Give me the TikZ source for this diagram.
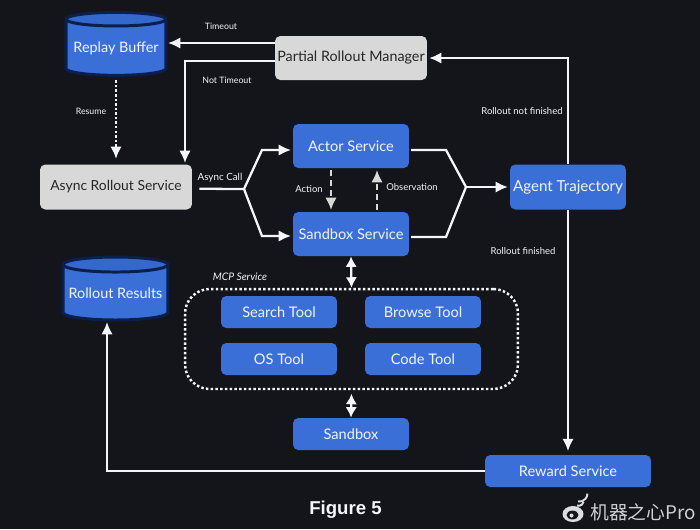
\documentclass[tikz,border=0pt]{standalone}
\usepackage{fontspec}
\setmainfont{Lato}
\newfontfamily\captionfont{Liberation Sans}
\newfontfamily\cjkfont{Noto Sans CJK SC}
\usetikzlibrary{arrows.meta,shapes.geometric}

\definecolor{pagebg}{HTML}{14151A}
\definecolor{boxblue}{HTML}{3A6FD8}
\definecolor{boxgrey}{HTML}{D8D8D8}
\definecolor{lidblue}{HTML}{3468CC}
\definecolor{rimblue}{HTML}{0A1F4E}
\definecolor{softwhite}{HTML}{F2F5FA}

\tikzset{
    bluebox/.style={fill=boxblue, rounded corners=3pt, inner sep=0pt, text=softwhite, font=\fontsize{8.3}{10}\selectfont},
    greybox/.style={fill=boxgrey, rounded corners=3pt, inner sep=0pt, text=black!85, font=\fontsize{8.15}{10}\selectfont},
    store/.style={cylinder, shape border rotate=90, shape aspect=0.16, draw=rimblue, line width=1.7pt, inner sep=0pt,
        cylinder uses custom fill, cylinder body fill=boxblue, cylinder end fill=lidblue,
        text=softwhite, font=\fontsize{8.2}{10}\selectfont},
    tag/.style={text=softwhite, inner sep=0pt, font=\fontsize{5.4}{6}\selectfont},
    flow/.style={draw=softwhite, line width=1.3pt, -{Latex[length=7pt,width=6.5pt]}},
    plainflow/.style={draw=softwhite, line width=1.3pt},
    dotflow/.style={flow, dash pattern=on 1.4pt off 1.2pt},
    dashflow/.style={draw=boxgrey, line width=1.3pt, dash pattern=on 3.2pt off 2.6pt, -{Latex[length=7pt,width=6.5pt]}},
    bothflow/.style={draw=softwhite, line width=1.3pt, {Latex[length=6pt,width=6.5pt]}-{Latex[length=6pt,width=6.5pt]}}
}

\begin{document}
\begin{tikzpicture}[x=0.02cm, y=-0.02cm]
    % background
    \fill[pagebg] (0,0) rectangle (700,529);
    \useasboundingbox (0,0) rectangle (700,529);

    % stores
    \node[store, minimum width=2cm, minimum height=1.26cm] (replay) at (116,48) {\raisebox{-3pt}{Replay Buffer}};
    \node[store, minimum width=2.1cm, minimum height=1.26cm] (results) at (115.5,293) {\raisebox{-3pt}{Rollout Results}};

    % grey services
    \node[greybox, minimum width=3.04cm, minimum height=0.88cm] (manager) at (351,58) {Partial Rollout Manager};
    \node[greybox, minimum width=3.04cm, minimum height=0.9cm, font=\fontsize{7.9}{10}\selectfont] (async) at (116,187) {Async Rollout Service};

    % blue services
    \node[bluebox, minimum width=2.32cm, minimum height=0.88cm] (actor) at (351,146) {Actor Service};
    \node[bluebox, minimum width=2.32cm, minimum height=0.88cm] (sandboxsvc) at (351,234) {Sandbox Service};
    \node[bluebox, minimum width=2.32cm, minimum height=0.9cm, font=\fontsize{8.6}{10}\selectfont] (agent) at (568,187) {Agent Trajectory};
    \node[bluebox, minimum width=2.32cm, minimum height=0.64cm] (sandbox) at (351,434) {Sandbox};
    \node[bluebox, minimum width=3.32cm, minimum height=0.64cm] (reward) at (568,471) {Reward Service};

    % MCP tools
    \node[draw=softwhite, line width=1.4pt, dash pattern=on 1.4pt off 1.3pt, rounded corners=14pt,
        minimum width=6.66cm, minimum height=2cm] (mcp) at (351.5,339) {};
    \foreach \toolname/\toolx/\tooly/\tooltext in {search/279/312/Search Tool, browse/423/312/Browse Tool, os/279/359/OS Tool, code/423/359/Code Tool} {
        \node[bluebox, minimum width=2.32cm, minimum height=0.64cm] (\toolname) at (\toolx,\tooly) {\tooltext};
    }

    % junction points
    \coordinate (split) at (244,189);
    \coordinate (merge) at (466,187);
    \coordinate (bendtimeout) at (185,61);
    \coordinate (asyncin) at (185,163);
    \coordinate (bufferin) at (168,43);
    \coordinate (resultsin) at (107,322);

    % Partial Rollout Manager outputs
    \draw[flow] (manager.west |- bufferin) -- (bufferin);
    \draw[flow] (manager.west |- bendtimeout) -- (bendtimeout) -- (asyncin);
    \draw[dotflow] ([yshift=-2pt]replay.south) -- ([yshift=3pt]async.north);

    % async call
    \draw[plainflow] ([xshift=4pt,yshift=-1pt]async.east) -- (split);
    \draw[flow] (split) -- (262,150) -- (291,150);
    \draw[flow] (split) -- (262,236) -- (291,236);

    % action and observation
    \draw[dashflow] (331,170) -- (331,210);
    \draw[dashflow] (377,210) -- (377,170);

    % into Agent Trajectory
    \draw[plainflow] (411,150) -- (446,150) -- (merge);
    \draw[plainflow] (411,237) -- (446,237) -- (merge);
    \draw[flow] (merge) -- ([xshift=-1pt]agent.west);

    % out of Agent Trajectory
    \draw[flow] (agent.north) -- (568,58) -- ([xshift=1pt]manager.east);
    \draw[flow] (agent.south) -- ([yshift=2pt]reward.north);
    \draw[flow] (reward.west) -- (107,471) -- (resultsin);

    % sandbox links
    \draw[bothflow] (sandboxsvc.south) -- (mcp.north);
    \draw[bothflow] ([yshift=-2pt]mcp.south) -- (sandbox.north);

    % labels
    \node[tag, font=\fontsize{5}{6}\selectfont] (timeouttag) at (221,26) {Timeout};
    \node[tag, font=\fontsize{5}{6}\selectfont] (nottimeouttag) at (227,80) {Not Timeout};
    \node[tag, font=\fontsize{5}{6}\selectfont] (resumetag) at (91,111) {Resume};
    \node[tag, font=\fontsize{5.6}{6}\selectfont] (asynctag) at (220,178) {Async Call};
    \node[tag] (actiontag) at (309,189) {Action};
    \node[tag] (obstag) at (412,187) {Observation};
    \node[tag] (notfinishedtag) at (522,111) {Rollout not finished};
    \node[tag] (finishedtag) at (523,251) {Rollout finished};
    \node[tag, font=\fontsize{5.9}{6}\itshape\selectfont] (mcptag) at (240,277) {MCP Service};

    % caption
    \node[text=softwhite, inner sep=0pt, font=\captionfont\bfseries\fontsize{10.6}{12}\selectfont] (figcaption) at (345.5,510) {Figure 5};
    \node[text=softwhite!85!black, inner sep=0pt, anchor=west, font=\cjkfont\fontsize{10.7}{12}\selectfont] (watermark) at (590,512) {机器之心Pro};

    % weibo mark
    \fill[softwhite!90!black] (573,514) ellipse (10.5 and 8);
    \fill[pagebg] (572.5,515) ellipse (6 and 4.4);
    \fill[softwhite!90!black] (571.5,515.5) circle (2);
    \draw[softwhite!90!black, line width=1.1pt] (577,505.5) arc (110:10:5);
    \draw[softwhite!90!black, line width=1.1pt] (578,501.5) arc (100:0:8);
\end{tikzpicture}
\end{document}
